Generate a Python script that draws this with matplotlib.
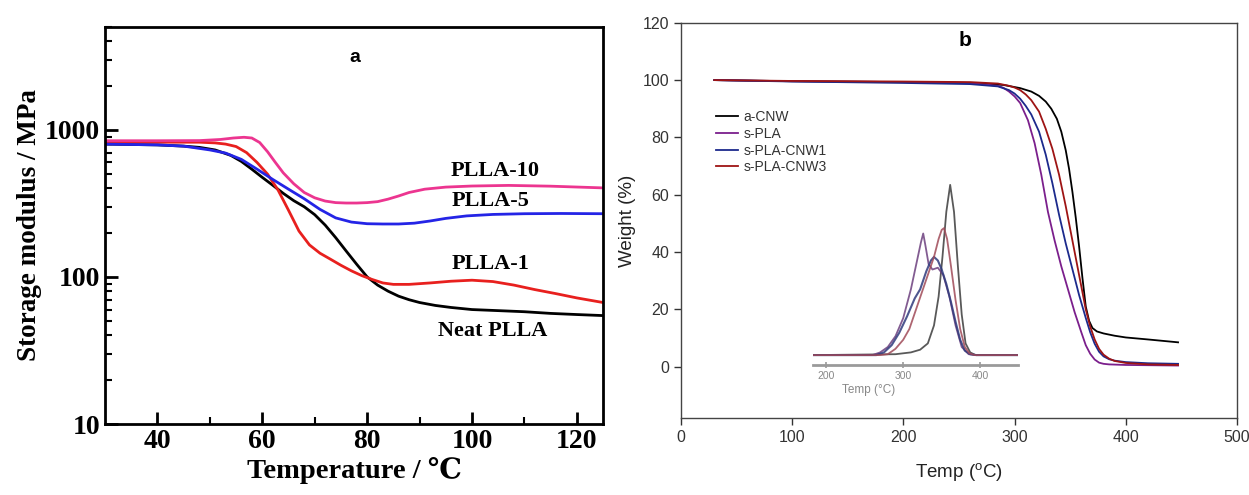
import numpy as np
import matplotlib
matplotlib.use("Agg")
import matplotlib.pyplot as plt
from matplotlib.ticker import LogLocator, FixedLocator

# ------------------ panel a: storage modulus (DMA) ------------------
neat_T = [30, 35, 40, 45, 48, 51, 54, 56, 58, 60, 62, 64, 66, 68, 70, 72, 74, 76, 78, 80,
          82, 84, 86, 88, 90, 93, 96, 100, 105, 110, 115, 120, 125]
neat_E = [800, 795, 790, 775, 760, 730, 670, 610, 540, 475, 420, 370, 330, 300, 265, 225, 185, 150, 122, 100,
          88, 80, 74, 70, 67, 64, 62, 60, 59, 58, 56.5, 55.5, 54.6]

plla1_T = [30, 40, 48, 51, 53, 55, 57, 59, 61, 63, 65, 67, 69, 71, 73, 75, 77, 79, 81, 83,
           85, 88, 92, 96, 100, 104, 108, 112, 116, 120, 125]
plla1_E = [824, 824, 824, 815, 800, 770, 700, 600, 500, 390, 284, 205, 165, 145, 132, 120, 110, 102, 96, 91,
           89, 89, 91, 93.5, 95, 93, 88, 82, 77, 72, 67]

plla5_T = [30, 35, 40, 45, 50, 53, 56, 59, 62, 65, 68, 71, 74, 77, 80, 83, 86, 89, 92, 95,
           99, 104, 110, 117, 125]
plla5_E = [800, 795, 790, 775, 730, 695, 630, 540, 460, 395, 340, 288, 252, 236, 230, 229, 229, 232, 240, 250,
           260, 266, 269, 270, 269]

plla10_T = [30, 40, 48, 52, 54.5, 56.5, 58, 59.5, 61, 62.5, 64, 66, 68, 70, 72, 74, 76, 78, 80, 82,
            84, 86, 88, 91, 95, 100, 107, 115, 125]
plla10_E = [843, 843, 845, 860, 880, 890, 880, 820, 710, 600, 510, 430, 375, 345, 328, 320, 318, 318, 320, 325,
            338, 355, 375, 395, 408, 415, 419, 414, 403]

curve_labels = ["PLLA-10", "PLLA-5", "PLLA-1", "Neat PLLA"]

# ------------------ panel b: TGA ------------------
cnw_T = [30, 100, 200, 260, 290, 305, 315, 322, 328, 333, 338, 342, 346, 349, 352, 355, 358, 361,
         364, 367, 370, 374, 380, 390, 400, 420, 447]
cnw_W = [100, 99.6, 99.3, 99.0, 98.3, 97.2, 96.0, 94.5, 92.5, 90, 86.5, 82, 75.5, 69, 61, 52, 42, 31,
         21, 16, 13.5, 12.3, 11.6, 10.8, 10.2, 9.5, 8.5]

spla_T = [30, 100, 200, 260, 285, 290, 295, 300, 305, 312, 318, 324, 330, 336, 342, 348, 354, 360,
          364, 368, 372, 376, 380, 385, 400, 447]
spla_W = [100, 99.6, 99.3, 99.0, 98.0, 97.3, 96.0, 94.3, 92, 86, 78, 67, 54, 44, 35, 27, 19, 12,
          7.5, 4.5, 2.5, 1.4, 1.0, 0.8, 0.6, 0.4]

cnw1_T = [30, 100, 200, 260, 285, 295, 300, 305, 310, 315, 322, 328, 334, 340, 346, 352, 358, 364,
          368, 372, 376, 380, 385, 390, 400, 420, 447]
cnw1_W = [100, 99.5, 99.0, 98.6, 97.8, 96.5, 95.3, 93.5, 91, 88, 82, 74, 64, 53, 43, 34, 25, 17,
          12, 8, 5.2, 3.6, 2.6, 2.1, 1.6, 1.2, 1.0]

cnw3_T = [30, 100, 200, 260, 285, 295, 300, 305, 310, 315, 322, 328, 334, 340, 346, 352, 358, 364,
          368, 372, 376, 380, 385, 390, 400, 420, 447]
cnw3_W = [100, 99.7, 99.5, 99.3, 98.8, 98.0, 97.4, 96.5, 95, 93, 89, 83, 76, 67, 56, 44, 32, 20,
          14, 9.5, 6.2, 4.2, 2.8, 2.0, 1.3, 0.8, 0.6]

# inset DTG (arbitrary units)
dtg_cnw_T = [183, 290, 310, 322, 332, 340, 346, 351, 356, 361, 366, 371, 376, 381, 387, 394, 449]
dtg_cnw = [0.055, 0.06, 0.07, 0.085, 0.12, 0.22, 0.38, 0.6, 0.85, 1.0, 0.85, 0.55, 0.28, 0.12, 0.07, 0.055, 0.055]
dtg_spla_T = [183, 260, 270, 280, 290, 300, 310, 318, 323, 326, 329, 333, 338, 345, 352, 360, 368, 376, 385, 395, 449]
dtg_spla = [0.055, 0.055, 0.07, 0.1, 0.16, 0.26, 0.42, 0.58, 0.68, 0.73, 0.66, 0.56, 0.53, 0.54, 0.5, 0.38,
            0.22, 0.1, 0.06, 0.055, 0.055]
dtg_cnw1_T = [183, 265, 275, 285, 295, 305, 315, 322, 330, 336, 340, 345, 350, 356, 362, 368, 374, 380, 387, 395, 449]
dtg_cnw1 = [0.055, 0.055, 0.07, 0.11, 0.18, 0.27, 0.37, 0.42, 0.52, 0.58, 0.60, 0.58, 0.53, 0.45, 0.35, 0.24,
            0.14, 0.08, 0.06, 0.055, 0.055]
dtg_cnw3_T = [183, 270, 280, 290, 300, 308, 316, 324, 332, 340, 346, 350, 353, 357, 362, 368, 374, 380, 386, 393, 449]
dtg_cnw3 = [0.055, 0.055, 0.06, 0.09, 0.14, 0.2, 0.3, 0.4, 0.5, 0.6, 0.7, 0.75, 0.76, 0.7, 0.55, 0.36,
            0.2, 0.1, 0.065, 0.055, 0.055]

serif = ["Liberation Serif", "DejaVu Serif"]
sans = ["Liberation Sans", "DejaVu Sans"]
plt.rcParams["mathtext.fontset"] = "custom"
plt.rcParams["mathtext.rm"] = "Liberation Sans"

fig = plt.figure(figsize=(12.49, 4.95), dpi=100)

# ==========================================================
# PANEL A
# ==========================================================
axa = fig.add_axes([0.0841, 0.1434, 0.3987, 0.802])
axa.plot(neat_T, neat_E, color="black", lw=2)
axa.plot(plla1_T, plla1_E, color="#e8201e", lw=2)
axa.plot(plla5_T, plla5_E, color="#2424e6", lw=2)
axa.plot(plla10_T, plla10_E, color="#ec3590", lw=2)
axa.set_yscale("log")
axa.set_xlim(30, 125)
axa.set_ylim(10, 5000)
axa.xaxis.set_major_locator(FixedLocator([40, 60, 80, 100, 120]))
axa.xaxis.set_minor_locator(FixedLocator([50, 70, 90, 110]))
axa.yaxis.set_minor_locator(LogLocator(base=10, subs=np.arange(2, 10)))
axa.tick_params(which="major", direction="in", length=9, width=2,
                labelsize=20, top=False, right=False)
axa.tick_params(which="minor", direction="in", length=5, width=1.5,
                top=False, right=False, labelleft=False)
axa.set_yticks([10, 100, 1000])
axa.set_yticklabels(["10", "100", "1000"])
for lab in axa.get_xticklabels() + axa.get_yticklabels():
    lab.set_family(serif)
    lab.set_fontweight("bold")
for sp in axa.spines.values():
    sp.set_linewidth(2)
axa.set_xlabel("Temperature / \u2103", family=serif, fontweight="bold", fontsize=20.5, labelpad=2)
axa.set_ylabel("Storage modulus / MPa", family=serif, fontweight="bold", fontsize=19.5, labelpad=2)
axa.text(0.502, 0.924, "a", transform=axa.transAxes, ha="center", va="center",
         fontsize=14, fontweight="bold", family=sans)
for txt, x, y in zip(curve_labels, [104.4, 103.6, 103.6, 104], [528, 330, 122, 43]):
    axa.text(x, y, txt, ha="center", va="center", fontsize=16,
             fontweight="bold", family=serif)

# ==========================================================
# PANEL B
# ==========================================================
axb = fig.add_axes([0.5452, 0.1550, 0.4452, 0.7990])
axb.plot(cnw_T, cnw_W, color="black", lw=1.3, label="a-CNW")
axb.plot(spla_T, spla_W, color="#7b1f8c", lw=1.3, label="s-PLA")
axb.plot(cnw1_T, cnw1_W, color="#1c2a8c", lw=1.3, label="s-PLA-CNW1")
axb.plot(cnw3_T, cnw3_W, color="#9e1414", lw=1.3, label="s-PLA-CNW3")
axb.set_xlim(0, 500)
axb.set_ylim(-18, 120)
axb.set_xticks([0, 100, 200, 300, 400, 500])
axb.set_yticks([0, 20, 40, 60, 80, 100, 120])
axb.tick_params(direction="out", length=5, width=1, labelsize=11.5,
                colors="#333333", top=False, right=False)
for lab in axb.get_xticklabels() + axb.get_yticklabels():
    lab.set_family(sans)
for sp in axb.spines.values():
    sp.set_color("#444444")
    sp.set_linewidth(1)
axb.set_xlabel(r"Temp ($^{\mathrm{o}}$C)", family=sans, fontsize=13.5, color="#222222", labelpad=12)
axb.set_ylabel("Weight (%)", family=sans, fontsize=13.5, color="#222222", labelpad=5)
axb.text(0.511, 0.954, "b", transform=axb.transAxes, ha="center", va="center",
         fontsize=15, fontweight="bold", family=sans)
leg = axb.legend(loc="upper left", bbox_to_anchor=(0.05, 0.797), frameon=False,
                 prop={"family": sans, "size": 10}, handlelength=1.6,
                 handletextpad=0.4, labelspacing=0.2, borderpad=0)
for t in leg.get_texts():
    t.set_color("#333333")

# inset: DTG curves
axi = fig.add_axes([0.651, 0.2626, 0.164, 0.384])
axi.patch.set_alpha(0)
axi.plot(dtg_cnw_T, dtg_cnw, color="#3c3c3c", lw=1.3, alpha=0.85)
axi.plot(dtg_spla_T, dtg_spla, color="#6c3f7e", lw=1.3, alpha=0.85)
axi.plot(dtg_cnw1_T, dtg_cnw1, color="#2f3a7c", lw=1.5, alpha=0.85)
axi.plot(dtg_cnw3_T, dtg_cnw3, color="#a04a58", lw=1.3, alpha=0.85)
axi.set_xlim(183, 449)
axi.set_ylim(0, 1.055)
for s in ["top", "right", "left"]:
    axi.spines[s].set_visible(False)
axi.spines["bottom"].set_color("#9a9a9a")
axi.spines["bottom"].set_linewidth(2)
axi.set_yticks([])
axi.set_xticks([200, 300, 400])
axi.tick_params(axis="x", direction="inout", length=5, width=1.2,
                colors="#9a9a9a", labelsize=7.5, labelcolor="#888888", pad=2)
for lab in axi.get_xticklabels():
    lab.set_family(sans)
axi.set_xlabel("Temp (\u00b0C)", family=sans, fontsize=8.5, color="#888888", labelpad=1)
axi.xaxis.set_label_coords(0.27, -0.1)

fig.savefig("out.png", dpi=100)
